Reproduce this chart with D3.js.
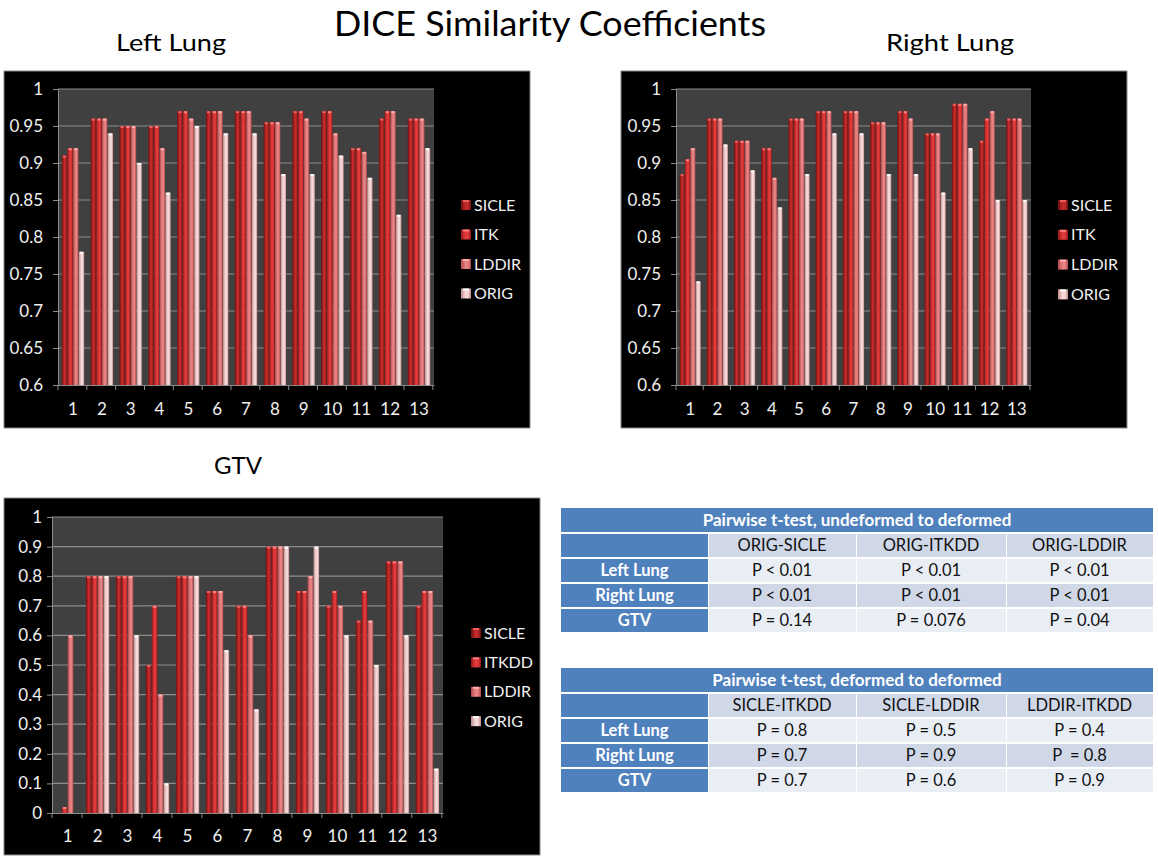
<!DOCTYPE html>
<html>
<head>
<meta charset="utf-8">
<script src="https://cdn.jsdelivr.net/npm/d3@7"></script>
<style>
  body { margin: 0; background: #fff; }
  svg { display: block; font-family: Lato, "Open Sans", sans-serif; }
</style>
</head>
<body>
<script>
// ---- data ----
const categories = ["1", "2", "3", "4", "5", "6", "7", "8", "9", "10", "11", "12", "13"];
const lungSeries = ["SICLE", "ITK", "LDDIR", "ORIG"];
const gtvSeries = ["SICLE", "ITKDD", "LDDIR", "ORIG"];

const leftSICLE = [0.91, 0.96, 0.95, 0.95, 0.97, 0.97, 0.97, 0.955, 0.97, 0.97, 0.92, 0.96, 0.96];
const leftITK   = [0.92, 0.96, 0.95, 0.95, 0.97, 0.97, 0.97, 0.955, 0.97, 0.97, 0.92, 0.97, 0.96];
const leftLDDIR = [0.92, 0.96, 0.95, 0.92, 0.96, 0.97, 0.97, 0.955, 0.96, 0.94, 0.915, 0.97, 0.96];
const leftORIG  = [0.78, 0.94, 0.90, 0.86, 0.95, 0.94, 0.94, 0.885, 0.885, 0.91, 0.88, 0.83, 0.92];

const rightSICLE = [0.885, 0.96, 0.93, 0.92, 0.96, 0.97, 0.97, 0.955, 0.97, 0.94, 0.98, 0.93, 0.96];
const rightITK   = [0.905, 0.96, 0.93, 0.92, 0.96, 0.97, 0.97, 0.955, 0.97, 0.94, 0.98, 0.96, 0.96];
const rightLDDIR = [0.92, 0.96, 0.93, 0.88, 0.96, 0.97, 0.97, 0.955, 0.96, 0.94, 0.98, 0.97, 0.96];
const rightORIG  = [0.74, 0.925, 0.89, 0.84, 0.885, 0.94, 0.94, 0.885, 0.885, 0.86, 0.92, 0.85, 0.85];

const gtvSICLE = [0, 0.8, 0.8, 0.5, 0.8, 0.75, 0.7, 0.9, 0.75, 0.7, 0.65, 0.85, 0.7];
const gtvITKDD = [0.02, 0.8, 0.8, 0.7, 0.8, 0.75, 0.7, 0.9, 0.75, 0.75, 0.75, 0.85, 0.75];
const gtvLDDIR = [0.6, 0.8, 0.8, 0.4, 0.8, 0.75, 0.6, 0.9, 0.8, 0.7, 0.65, 0.85, 0.75];
const gtvORIG  = [0, 0.8, 0.6, 0.1, 0.8, 0.55, 0.35, 0.9, 0.9, 0.6, 0.5, 0.6, 0.15];

const lungTicks = [0.6, 0.65, 0.7, 0.75, 0.8, 0.85, 0.9, 0.95, 1];
const lungTickLabels = ["0.6", "0.65", "0.7", "0.75", "0.8", "0.85", "0.9", "0.95", "1"];
const gtvTicks = [0, 0.1, 0.2, 0.3, 0.4, 0.5, 0.6, 0.7, 0.8, 0.9, 1];
const gtvTickLabels = ["0", "0.1", "0.2", "0.3", "0.4", "0.5", "0.6", "0.7", "0.8", "0.9", "1"];

const table1Title = "Pairwise t-test, undeformed to deformed";
const table1Cols = ["ORIG-SICLE", "ORIG-ITKDD", "ORIG-LDDIR"];
const table1Rows = ["Left Lung", "Right Lung", "GTV"];
const table1Values = [
  ["P < 0.01", "P < 0.01", "P < 0.01"],
  ["P < 0.01", "P < 0.01", "P < 0.01"],
  ["P = 0.14", "P = 0.076", "P = 0.04"]
];
const table2Title = "Pairwise t-test, deformed to deformed";
const table2Cols = ["SICLE-ITKDD", "SICLE-LDDIR", "LDDIR-ITKDD"];
const table2Rows = ["Left Lung", "Right Lung", "GTV"];
const table2Values = [
  ["P = 0.8", "P = 0.5", "P = 0.4"],
  ["P = 0.7", "P = 0.9", "P  = 0.8"],
  ["P = 0.7", "P = 0.6", "P = 0.9"]
];

// bar shading: edge, light centre, top cap
const barShades = [
  ["#6e1010", "#c22a2a", "#e86060"],
  ["#981818", "#e23a3a", "#ff8080"],
  ["#b04a4a", "#e88282", "#ffb0b0"],
  ["#c08c8c", "#f6d8d8", "#ffffff"]
];

const svg = d3.select("body").append("svg")
    .attr("width", 1158)
    .attr("height", 860);

const defs = svg.append("defs");
barShades.forEach((c, i) => {
  const g = defs.append("linearGradient")
      .attr("id", "bar" + i)
      .attr("x1", 0).attr("x2", 1).attr("y1", 0).attr("y2", 0);
  g.append("stop").attr("offset", "0%").attr("stop-color", c[0]);
  g.append("stop").attr("offset", "45%").attr("stop-color", c[1]);
  g.append("stop").attr("offset", "70%").attr("stop-color", c[1]);
  g.append("stop").attr("offset", "100%").attr("stop-color", c[0]);
});

// titles
svg.append("text")
    .attr("x", 550).attr("y", 36)
    .attr("text-anchor", "middle")
    .attr("font-size", 34)
    .attr("textLength", 432).attr("lengthAdjust", "spacingAndGlyphs")
    .text("DICE Similarity Coefficients");
svg.append("text").attr("x", 171).attr("y", 51).attr("text-anchor", "middle")
    .attr("font-size", 24).attr("textLength", 110).attr("lengthAdjust", "spacingAndGlyphs")
    .text("Left Lung");
svg.append("text").attr("x", 950).attr("y", 51).attr("text-anchor", "middle")
    .attr("font-size", 24).attr("textLength", 128).attr("lengthAdjust", "spacingAndGlyphs")
    .text("Right Lung");
svg.append("text").attr("x", 238).attr("y", 474).attr("text-anchor", "middle")
    .attr("font-size", 24).attr("textLength", 48).attr("lengthAdjust", "spacingAndGlyphs")
    .text("GTV");

function drawChart(opt) {
  const g = svg.append("g");
  g.append("rect")
      .attr("x", opt.panel[0]).attr("y", opt.panel[1])
      .attr("width", opt.panel[2] - opt.panel[0]).attr("height", opt.panel[3] - opt.panel[1])
      .attr("fill", "#000").attr("stroke", "#8a8a8a").attr("stroke-width", 1);
  g.append("rect")
      .attr("x", opt.plot[0]).attr("y", opt.plot[1])
      .attr("width", opt.plot[2] - opt.plot[0]).attr("height", opt.plot[3] - opt.plot[1])
      .attr("fill", "#404040");

  const y = d3.scaleLinear().domain(opt.domain).range([opt.plot[3], opt.plot[1]]);
  const x0 = d3.scaleBand().domain(categories).range([opt.plot[0], opt.plot[2]])
      .paddingInner(0.2).paddingOuter(0.12);
  const x1 = d3.scaleBand().domain(d3.range(opt.series.length)).range([0, x0.bandwidth()])
      .padding(0.06);

  // grid lines
  g.selectAll(".grid").data(opt.ticks.slice(1)).enter().append("line")
      .attr("x1", opt.plot[0]).attr("x2", opt.plot[2])
      .attr("y1", d => y(d)).attr("y2", d => y(d))
      .attr("stroke", "#8c8c8c").attr("stroke-width", 1.2);

  // y axis
  const yAxis = d3.axisLeft(y).tickValues(opt.ticks)
      .tickFormat((d, i) => opt.tickLabels[i]).tickSize(5).tickPadding(opt.tickPad);
  const ya = g.append("g").attr("transform", `translate(${opt.plot[0]},0)`).call(yAxis);
  ya.select(".domain").attr("stroke", "#8c8c8c");
  ya.selectAll(".tick line").attr("stroke", "#8c8c8c");
  ya.selectAll("text").attr("fill", "#f0f0f0").attr("font-size", 17).attr("font-family", "Lato");

  // x axis
  const xAxis = d3.axisBottom(x0).tickSize(0).tickPadding(opt.xPad);
  const xa = g.append("g").attr("transform", `translate(0,${opt.plot[3]})`).call(xAxis);
  xa.select(".domain").attr("stroke", "#8c8c8c");
  xa.selectAll("text").attr("fill", "#f0f0f0").attr("font-size", 17).attr("font-family", "Lato");
  const step = x0.step();
  g.selectAll(".xtick").data(d3.range(categories.length + 1)).enter().append("line")
      .attr("x1", i => opt.plot[0] + i * step).attr("x2", i => opt.plot[0] + i * step)
      .attr("y1", opt.plot[3]).attr("y2", opt.plot[3] + 5)
      .attr("stroke", "#8c8c8c");

  // bars
  opt.values.forEach((vals, s) => {
    const bars = g.append("g");
    bars.selectAll("rect.bar").data(vals).enter().append("rect")
        .attr("class", "bar")
        .attr("x", (d, i) => x0(categories[i]) + x1(s))
        .attr("width", x1.bandwidth())
        .attr("y", d => y(d))
        .attr("height", d => opt.plot[3] - y(d))
        .attr("fill", `url(#bar${s})`);
    bars.selectAll("rect.cap").data(vals).enter().append("rect")
        .attr("class", "cap")
        .attr("x", (d, i) => x0(categories[i]) + x1(s) + 1)
        .attr("width", Math.max(1, x1.bandwidth() - 2))
        .attr("y", d => y(d))
        .attr("height", d => d > opt.domain[0] ? 2 : 0)
        .attr("fill", barShades[s][2]);
  });

  // legend
  const lg = g.append("g");
  opt.series.forEach((name, s) => {
    const ly = opt.legend[1] + s * opt.legend[2];
    lg.append("rect").attr("x", opt.legend[0]).attr("y", ly - 5)
        .attr("width", 10).attr("height", 10).attr("fill", `url(#bar${s})`);
    lg.append("rect").attr("x", opt.legend[0] + 2).attr("y", ly - 5)
        .attr("width", 6).attr("height", 2).attr("fill", barShades[s][2]);
    lg.append("text").attr("x", opt.legend[0] + 13).attr("y", ly)
        .attr("dy", "0.35em").attr("fill", "#f0f0f0").attr("font-size", 16)
        .text(name);
  });
}

drawChart({
  panel: [4, 71, 530, 428], plot: [58, 89, 434, 385],
  domain: [0.6, 1], ticks: lungTicks, tickLabels: lungTickLabels, tickPad: 10, xPad: 18,
  series: lungSeries, values: [leftSICLE, leftITK, leftLDDIR, leftORIG],
  legend: [461, 205, 29.5]
});
drawChart({
  panel: [621, 71, 1127, 428], plot: [676, 89, 1031, 385],
  domain: [0.6, 1], ticks: lungTicks, tickLabels: lungTickLabels, tickPad: 10, xPad: 18,
  series: lungSeries, values: [rightSICLE, rightITK, rightLDDIR, rightORIG],
  legend: [1058, 205, 29.8]
});
drawChart({
  panel: [4, 498, 540, 855], plot: [52, 517, 443, 813],
  domain: [0, 1], ticks: gtvTicks, tickLabels: gtvTickLabels, tickPad: 5, xPad: 17,
  series: gtvSeries, values: [gtvSICLE, gtvITKDD, gtvLDDIR, gtvORIG],
  legend: [471, 633, 29.4]
});

// tables
function drawTable(top, title, cols, rows, values) {
  const colX = [561, 708, 856, 1006, 1153];
  const rowH = 25;
  const g = svg.append("g");
  const blue = "#4f81bd";
  g.append("rect").attr("x", colX[0]).attr("y", top)
      .attr("width", colX[4] - colX[0]).attr("height", rowH - 1).attr("fill", blue);
  g.append("text").attr("x", (colX[0] + colX[4]) / 2).attr("y", top + rowH / 2)
      .attr("dy", "0.35em").attr("text-anchor", "middle")
      .attr("fill", "#fff").attr("font-weight", "bold").attr("font-size", 17)
      .text(title);

  const grid = [[""].concat(cols)].concat(rows.map((r, i) => [r].concat(values[i])));
  grid.forEach((row, ri) => {
    const ry = top + (ri + 1) * rowH;
    row.forEach((cell, ci) => {
      let fill;
      if (ci === 0) fill = blue;
      else fill = (ri % 2 === 0) ? "#d0d8e8" : "#e9edf4";
      g.append("rect").attr("x", colX[ci] + (ci ? 1 : 0)).attr("y", ry + 1)
          .attr("width", colX[ci + 1] - colX[ci] - (ci ? 1 : 0)).attr("height", rowH - 2)
          .attr("fill", fill);
      g.append("text")
          .attr("x", (colX[ci] + colX[ci + 1]) / 2).attr("y", ry + rowH / 2)
          .attr("dy", "0.35em").attr("text-anchor", "middle")
          .style("white-space", "pre")
          .attr("fill", ci === 0 ? "#fff" : "#111")
          .attr("font-weight", ci === 0 ? "bold" : "normal")
          .attr("font-size", 16.5)
          .text(cell);
    });
  });
}

drawTable(508, table1Title, table1Cols, table1Rows, table1Values);
drawTable(668, table2Title, table2Cols, table2Rows, table2Values);
</script>
</body>
</html>
